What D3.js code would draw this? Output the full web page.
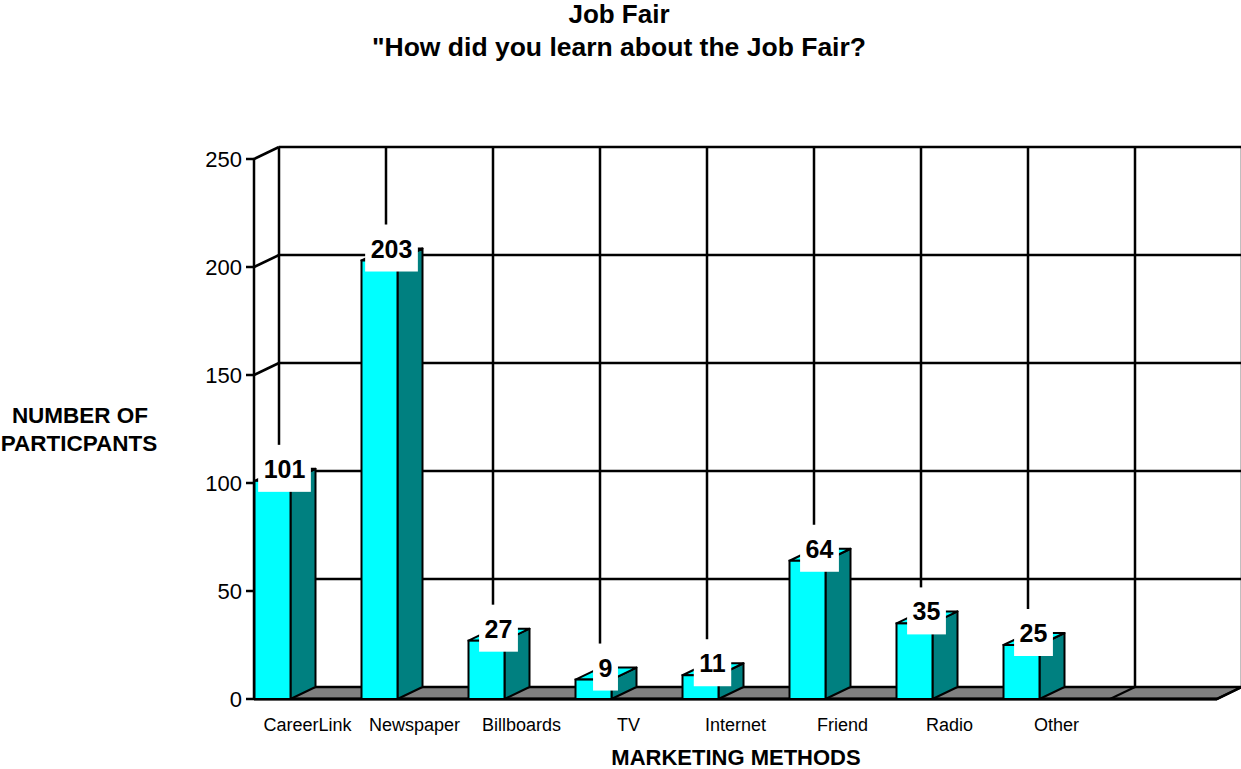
<!DOCTYPE html>
<html>
<head>
<meta charset="utf-8">
<script src="https://cdn.jsdelivr.net/npm/d3@7"></script>
<style>
  html, body { margin: 0; padding: 0; background: #fff; }
  svg { display: block; font-family: Arial, "Liberation Sans", sans-serif; }
</style>
</head>
<body>
<svg id="chart" width="1241" height="769"></svg>
<script>
// Survey answers: how participants heard about the job fair
const categories = ["CareerLink", "Newspaper", "Billboards", "TV", "Internet", "Friend", "Radio", "Other"];
const participants = [101, 203, 27, 9, 11, 64, 35, 25];
const yTicks = [0, 50, 100, 150, 200, 250];
const slotCount = 9; // eight answers plus one empty slot at the right

const svg = d3.select("#chart");

// Oblique 3D projection: the back wall sits DX right and DY up from the front plane
const DX = 25, DY = -12;
const left = 254, slotW = 107;

const x = d3.scaleBand()
  .domain(d3.range(slotCount))
  .range([left, left + slotW * slotCount])
  .paddingInner(0).paddingOuter(0);

const y = d3.scaleLinear().domain([0, 250]).range([699, 159]);

const ink = "#000";
const gridW = 2.5;

// Back wall: horizontal gridlines
const back = svg.append("g");
back.selectAll("line.h")
  .data(yTicks.filter(d => d > 0))
  .join("line")
  .attr("x1", left + DX).attr("x2", x.range()[1] + DX)
  .attr("y1", d => y(d) + DY).attr("y2", d => y(d) + DY)
  .attr("stroke", ink).attr("stroke-width", gridW);

// Back wall: vertical lines at slot boundaries
back.selectAll("line.v")
  .data(d3.range(slotCount + 1))
  .join("line")
  .attr("x1", i => left + i * x.step() + DX).attr("x2", i => left + i * x.step() + DX)
  .attr("y1", y(250) + DY).attr("y2", y(0) + DY)
  .attr("stroke", ink).attr("stroke-width", gridW);

// Side wall: diagonals from the value axis back to the wall
back.selectAll("line.d")
  .data(yTicks.filter(d => d > 0))
  .join("line")
  .attr("x1", left).attr("x2", left + DX)
  .attr("y1", d => y(d)).attr("y2", d => y(d) + DY)
  .attr("stroke", ink).attr("stroke-width", gridW);

// Floor
const x0 = left, x1 = x.range()[1];
svg.append("path")
  .attr("d", `M${x0},${y(0)} L${x0 + DX},${y(0) + DY} L${x1 + DX},${y(0) + DY} L${x1},${y(0)} Z`)
  .attr("fill", "#808080").attr("stroke", ink).attr("stroke-width", 2.5);
svg.selectAll("line.floor")
  .data(d3.range(slotCount + 1))
  .join("line")
  .attr("x1", i => left + i * x.step()).attr("x2", i => left + i * x.step() + DX)
  .attr("y1", y(0)).attr("y2", y(0) + DY)
  .attr("stroke", ink).attr("stroke-width", 2);
svg.append("line")
  .attr("x1", x0).attr("x2", x1).attr("y1", y(0)).attr("y2", y(0))
  .attr("stroke", ink).attr("stroke-width", 3);

// Value axis with outward ticks
const axis = svg.append("g");
axis.append("line")
  .attr("x1", left).attr("x2", left).attr("y1", y(250)).attr("y2", y(0))
  .attr("stroke", ink).attr("stroke-width", gridW);
axis.selectAll("line.t")
  .data(yTicks)
  .join("line")
  .attr("x1", left - 8).attr("x2", left)
  .attr("y1", d => y(d)).attr("y2", d => y(d))
  .attr("stroke", ink).attr("stroke-width", gridW);
axis.selectAll("text")
  .data(yTicks)
  .join("text")
  .attr("x", left - 12).attr("y", d => y(d))
  .attr("dy", "0.36em")
  .attr("text-anchor", "end")
  .attr("font-size", 22)
  .text(d => d);

// Bars: front face, side face, top face
const barW = 36;
const bars = svg.append("g").selectAll("g")
  .data(participants.map((v, i) => ({ v, i, name: categories[i] })))
  .join("g");

bars.append("path") // side
  .attr("d", d => {
    const bx = x(d.i) + 0.5 + barW, ty = y(d.v);
    return `M${bx},${ty} L${bx + DX},${ty + DY} L${bx + DX},${y(0) + DY} L${bx},${y(0)} Z`;
  })
  .attr("fill", "#008080").attr("stroke", ink).attr("stroke-width", 2).attr("stroke-linejoin", "round");

bars.append("path") // top
  .attr("d", d => {
    const bx = x(d.i) + 0.5, ty = y(d.v);
    return `M${bx},${ty} L${bx + DX},${ty + DY} L${bx + DX + barW},${ty + DY} L${bx + barW},${ty} Z`;
  })
  .attr("fill", "#00ffff").attr("stroke", ink).attr("stroke-width", 2).attr("stroke-linejoin", "round");

bars.append("rect") // front
  .attr("x", d => x(d.i) + 0.5)
  .attr("y", d => y(d.v))
  .attr("width", barW)
  .attr("height", d => y(0) - y(d.v))
  .attr("fill", "#00ffff").attr("stroke", ink).attr("stroke-width", 2);

// Value labels on white boxes
const labels = svg.append("g").selectAll("g")
  .data(participants.map((v, i) => ({ v, i })))
  .join("g")
  .attr("transform", d => `translate(${x(d.i) + 30.5},${y(d.v) - 12})`);

labels.append("text")
  .attr("text-anchor", "middle")
  .attr("dy", "0.36em")
  .attr("font-size", 25)
  .attr("font-weight", "bold")
  .text(d => d.v);

labels.each(function () {
  const g = d3.select(this);
  const w = g.select("text").node().getComputedTextLength() + 11;
  g.insert("rect", "text")
    .attr("x", -w / 2).attr("y", -24)
    .attr("width", w).attr("height", 47)
    .attr("fill", "#fff");
});

// Category labels
svg.append("g").selectAll("text")
  .data(categories)
  .join("text")
  .attr("x", (d, i) => x(i) + x.bandwidth() / 2)
  .attr("y", 731)
  .attr("text-anchor", "middle")
  .attr("font-size", 18)
  .text(d => d);

// Titles
svg.append("text")
  .attr("x", 619).attr("y", 23)
  .attr("text-anchor", "middle").attr("font-size", 26).attr("font-weight", "bold")
  .text("Job Fair");
svg.append("text")
  .attr("x", 619).attr("y", 56)
  .attr("text-anchor", "middle").attr("font-size", 26.5).attr("font-weight", "bold")
  .text("\"How did you learn about the Job Fair?");

svg.append("text")
  .attr("x", 736).attr("y", 765)
  .attr("text-anchor", "middle").attr("font-size", 22).attr("font-weight", "bold")
  .text("MARKETING METHODS");

const yTitle = svg.append("text")
  .attr("text-anchor", "middle").attr("font-size", 22.5).attr("font-weight", "bold");
yTitle.append("tspan").attr("x", 80).attr("y", 423).text("NUMBER OF");
yTitle.append("tspan").attr("x", 79).attr("y", 451).text("PARTICPANTS");
</script>
</body>
</html>
